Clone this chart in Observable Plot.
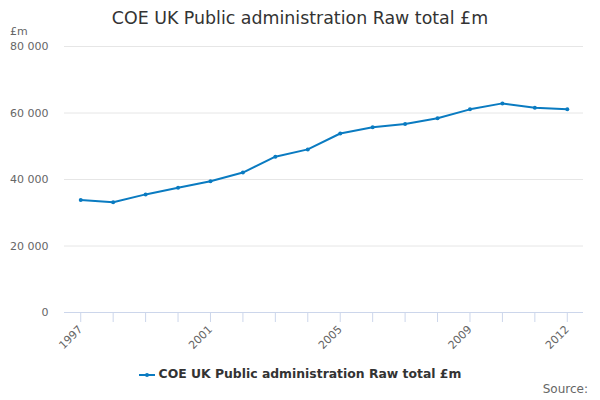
<!DOCTYPE html>
<html><head><meta charset="utf-8">
<script src="https://cdn.jsdelivr.net/npm/d3@7"></script>
<script src="https://cdn.jsdelivr.net/npm/@observablehq/plot@0.6"></script>
<style>
body{margin:0;font-family:"DejaVu Sans",sans-serif;background:#fff;}
#wrap{position:relative;width:600px;height:400px;overflow:hidden;}
#title{position:absolute;left:0;top:8px;width:600px;text-align:center;font-size:17.4px;color:#333;}
#unit{position:absolute;left:10px;top:25px;font-size:11px;color:#666;z-index:2;}
#chart{position:absolute;left:0;top:30px;}
#legend{position:absolute;top:366px;left:0;width:600px;text-align:center;font-size:12.4px;font-weight:bold;color:#333;}
#legend svg{vertical-align:middle;margin-right:4px;}
#source{position:absolute;right:12px;top:382px;font-size:12px;color:#666;}
</style>
</head><body>
<div id="wrap">
<div id="title">COE UK Public administration Raw total £m</div>
<div id="chart"></div>
<div id="unit">£m</div>
<div id="legend"></div>
<div id="source">Source:</div>
</div>
<script>
const years = [1997,1998,1999,2000,2001,2002,2003,2004,2005,2006,2007,2008,2009,2010,2011,2012];
const values = [33830,33130,35520,37510,39500,42090,46870,49060,53830,55720,56720,58410,61100,62890,61590,61100];
const labelYears = [1997,2001,2005,2009,2012];
const yTicks = [0,20000,40000,60000,80000];
const seriesName = "COE UK Public administration Raw total £m";
const color = "#0a7bc1";

const data = years.map((y,i)=>({year:y, value:values[i]}));

const chart = Plot.plot({
  width: 600,
  height: 335,
  marginLeft: 64,
  marginRight: 17,
  marginTop: 16,
  marginBottom: 53,
  style: {fontFamily: "DejaVu Sans, sans-serif", fontSize: "11px", background: "transparent"},
  x: {type: "linear", domain: [years[0]-0.5, years[years.length-1]+0.5]},
  y: {domain: [0, 80000]},
  marks: [
    Plot.gridY(yTicks, {stroke: "#e6e6e6", strokeOpacity: 1}),
    Plot.axisY(yTicks, {tickSize: 0, tickPadding: 16, fill: "#666", label: null, fontSize: 11,
      tickFormat: d => d3.format(",")(d).replace(/,/g, " ")}),
    Plot.axisX(years, {tickSize: 10, stroke: "#ccd6eb", strokeOpacity: 1, text: null, label: null}),
    Plot.axisX(labelYears, {tickSize: 0, tickPadding: 15, tickRotate: -45, fill: "#666", label: null, fontSize: 11, tickFormat: d => String(d)}),
    Plot.ruleY([0], {stroke: "#ccd6eb"}),
    Plot.line(data, {x: "year", y: "value", stroke: color, strokeWidth: 2}),
    Plot.dot(data, {x: "year", y: "value", fill: color, r: 2})
  ]
});
document.getElementById("chart").appendChild(chart);

document.getElementById("legend").innerHTML =
  `<svg width="16" height="10"><line x1="0" y1="5" x2="16" y2="5" stroke="${color}" stroke-width="2"/><circle cx="8" cy="5" r="2" fill="${color}"/></svg>` + seriesName;
</script>
</body></html>
